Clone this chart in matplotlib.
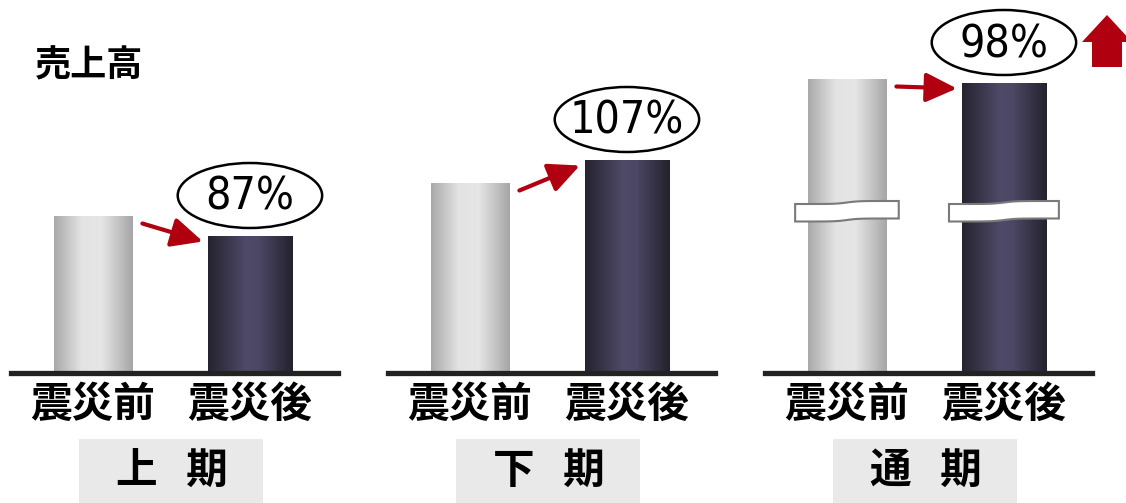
import numpy as np
import matplotlib.pyplot as plt
from matplotlib import font_manager
from matplotlib.patches import Ellipse, FancyArrowPatch, Polygon, Rectangle
from matplotlib.colors import LinearSegmentedColormap

plt.rcParams['font.family'] = ['Noto Sans CJK JP', 'DejaVu Sans']

# data (arbitrary units)
periods = ['上   期', '下   期', '通   期']
bar_labels = ['震災前', '震災後']
before = [157, 190, 294]
after = [137, 213, 290]
pct_labels = ['87%', '107%', '98%']
broken = [False, False, True]

W, H = 1126, 503
BASE = 372.5  # baseline in px from top
fig = plt.figure(figsize=(W / 100, H / 100), dpi=100)

gray_cmap = LinearSegmentedColormap.from_list(
    'gray_bar', [(0, '#a9a9a9'), (0.35, '#e3e3e3'), (0.6, '#e6e6e6'), (1, '#a6a6a6')])
dark_cmap = LinearSegmentedColormap.from_list(
    'dark_bar', [(0, '#25232f'), (0.45, '#4f4a68'), (0.6, '#4c4765'), (1, '#24222d')])
grad = np.linspace(0, 1, 256)[None, :]

red = '#b0000f'

# narrow font for the percentages, whatever is installed
fonts = font_manager.fontManager.ttflist
if any(f.name == 'Liberation Sans Narrow' for f in fonts):
    pct_kw = dict(family=['Liberation Sans Narrow', 'DejaVu Sans'])
elif any(f.name == 'DejaVu Sans' and 'condensed' in str(f.stretch) for f in fonts):
    pct_kw = dict(family=['DejaVu Sans'], fontstretch='condensed')
else:
    pct_kw = dict(family=['Liberation Sans', 'DejaVu Sans'])


def shade(ax, patch, cmap):
    x0, w, h = patch.get_x(), patch.get_width(), patch.get_height()
    patch.set_facecolor('none')
    patch.set_linewidth(0)
    im = ax.imshow(grad, cmap=cmap, extent=(x0, x0 + w, 0, h), aspect='auto',
                   interpolation='bilinear', zorder=1.5)
    im.set_clip_path(patch)


def break_band(ax, xc, half):
    # white wavy band marking an axis break
    xs = np.linspace(xc - half, xc + half, 80)
    s = 3 * (np.tanh((xs - xc) / (half * 0.22)) + 1) / 2
    top = 168.5 + s
    bot = 151 + s
    pts = list(zip(xs, top)) + list(zip(xs[::-1], bot[::-1]))
    ax.add_patch(Polygon(pts, closed=True, fc='white', ec='#7a7a7a', lw=1.5,
                         zorder=4, clip_on=False))


lefts = [11, 388, 765]
for i, left in enumerate(lefts):
    ax = fig.add_axes([left / W, (H - BASE) / H, 327 / W, BASE / H])
    b1 = ax.bar(0, before[i], width=0.50)[0]
    b2 = ax.bar(1, after[i], width=0.54)[0]
    shade(ax, b1, gray_cmap)
    shade(ax, b2, dark_cmap)
    ax.set_xlim(-0.522, 1.561)
    ax.set_ylim(0, BASE)

    for s in ['top', 'right', 'left']:
        ax.spines[s].set_visible(False)
    ax.spines['bottom'].set_linewidth(3.8)
    ax.spines['bottom'].set_color('#222222')
    ax.spines['bottom'].set_zorder(3)
    ax.set_yticks([])
    ax.set_xticks([0, 1])
    ax.set_xticklabels(bar_labels, fontsize=30, fontweight='bold')
    ax.tick_params(axis='x', length=0, pad=8)

    # percentage bubble
    cy = after[i] + 40
    ax.add_patch(Ellipse((1, cy), 0.92, 65, fc='white', ec='black', lw=1.8,
                         zorder=5, clip_on=False))
    ax.text(1, cy - 2, pct_labels[i], ha='center', va='center', fontsize=32,
            zorder=6, clip_on=False, **pct_kw)

    # red arrow from before to after
    ax.add_patch(FancyArrowPatch((0.315, before[i] - 8), (0.70, after[i] - 6),
                                 arrowstyle='-|>,head_length=19,head_width=9',
                                 mutation_scale=1, lw=3, color=red,
                                 shrinkA=0, shrinkB=0, zorder=5, clip_on=False))

    if broken[i]:
        break_band(ax, 0, 0.33)
        break_band(ax, 1, 0.35)

    # period label box
    ax.add_patch(Rectangle((0.5 - 0.586, -131), 1.172, 64.5, fc='#e9e9e9',
                           ec='none', clip_on=False, zorder=1))
    ax.text(0.5, -98.5, periods[i], ha='center', va='center', fontsize=30,
            fontweight='bold', zorder=2, clip_on=False)

# overlay in pixel coordinates for the title and the big up arrow
ov = fig.add_axes([0, 0, 1, 1])
ov.set_xlim(0, W)
ov.set_ylim(H, 0)
ov.axis('off')
ov.text(35, 66, '売上高', fontsize=26, fontweight='bold', va='center', ha='left')
ov.add_patch(Polygon([(1092, 67), (1092, 42), (1082, 42), (1107, 15),
                      (1132, 42), (1122, 42), (1122, 67)],
                     closed=True, fc=red, ec='none', clip_on=False))

fig.savefig('out.png', dpi=100)
